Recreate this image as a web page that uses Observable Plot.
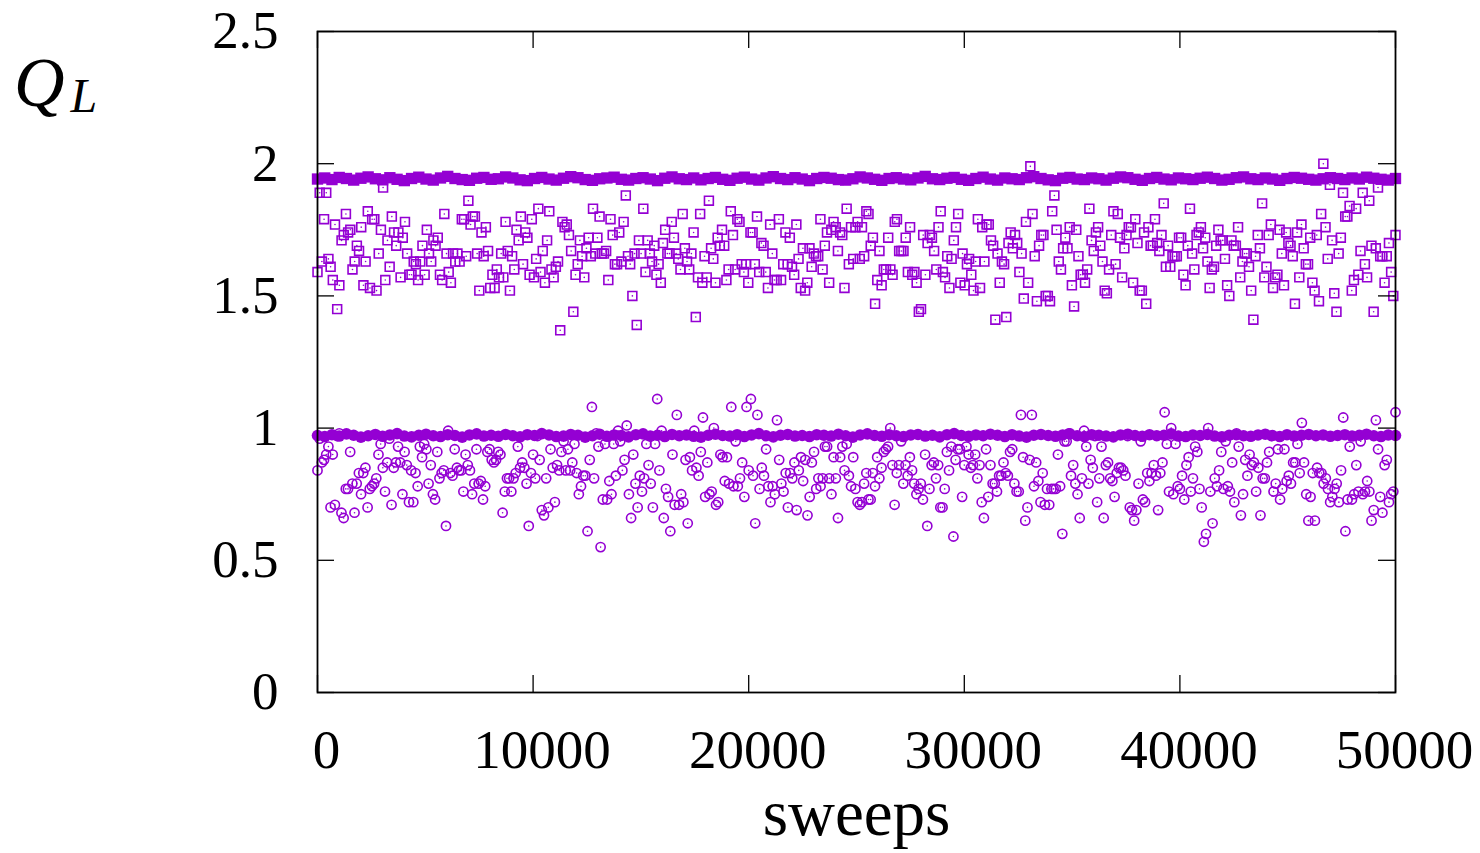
<!DOCTYPE html>
<html>
<head>
<meta charset="utf-8">
<script src="https://cdn.jsdelivr.net/npm/d3@7"></script>
<script src="https://cdn.jsdelivr.net/npm/@observablehq/plot@0.6"></script>
<style>
  html, body { margin: 0; padding: 0; background: #fff; }
  #chart { width: 1480px; height: 853px; }
</style>
</head>
<body>
<div id="chart"></div>
<script>
const xTicks = [0, 10000, 20000, 30000, 40000, 50000];
const yTicks = [0, 0.5, 1, 1.5, 2, 2.5];
const yTickLabels = ["0", "0.5", "1", "1.5", "2", "2.5"];
const xLabel = "sweeps";
const color = "#9400D3";

// open squares (scattered, upper)
const openSq = [
1.59,1.89,1.63,1.79,1.89,1.64,1.61,1.56,1.77,1.45,1.54,
1.71,1.73,1.81,1.74,1.75,1.60,1.63,1.69,1.67,1.76,1.54,1.63,1.82,1.53,1.79,1.79,1.52,
1.66,1.75,1.91,1.56,1.71,1.61,1.80,1.74,1.69,1.74,1.57,1.72,1.78,1.66,1.58,1.58,1.63,1.62,1.56,
1.63,1.69,1.58,1.75,1.66,1.63,1.71,1.69,1.72,1.58,1.56,1.81,1.66,1.59,1.55,1.66,1.63,1.66,1.63,
1.79,1.79,1.65,1.86,1.77,1.80,1.80,1.66,1.52,1.74,1.65,1.76,1.67,1.53,1.58,1.53,1.60,1.57,1.66,1.57,
1.78,1.67,1.52,1.65,1.60,1.75,1.71,1.80,1.62,1.74,1.72,1.58,1.79,1.57,1.64,1.83,1.59,1.67,1.55,1.71,
1.82,1.60,1.57,1.61,1.63,1.37,1.78,1.76,1.77,1.73,1.67,1.44,1.58,1.62,1.71,1.65,1.57,1.68,1.72,1.65,
1.83,1.66,1.72,1.80,1.66,1.66,1.67,1.56,1.79,1.73,1.62,1.62,1.74,1.63,1.78,1.88,1.65,1.62,1.50,1.66,
1.39,1.71,1.66,1.83,1.59,1.71,1.66,1.63,1.69,1.58,1.62,1.55,1.70,1.75,1.66,1.66,1.78,
1.72,1.66,1.64,1.60,1.81,1.68,1.63,1.60,1.66,1.74,1.42,1.57,1.81,1.55,1.65,1.57,1.86,1.68,1.64,1.55,
1.72,1.69,1.75,1.69,1.56,1.60,1.82,1.73,1.60,1.79,1.78,1.62,1.59,1.62,1.55,1.74,1.74,1.62,1.80,1.59,
1.70,1.69,1.59,1.53,1.77,1.66,1.56,1.56,1.79,1.56,1.62,1.74,1.62,1.72,1.61,1.58,1.77,1.64,1.53,1.68,
1.52,1.55,1.68,1.61,1.66,1.65,1.65,1.79,1.60,1.69,1.74,1.55,1.75,1.78,1.76,1.67,1.74,1.73,1.53,1.83,
1.62,1.76,1.64,1.76,1.78,1.64,1.76,1.65,1.82,1.81,1.69,1.72,1.47,1.56,1.67,1.54,1.60,1.60,1.72,1.60,
1.58,1.78,1.79,1.67,1.67,1.67,1.72,1.59,1.76,1.58,1.59,1.55,1.44,1.45,1.73,1.58,1.70,1.73,1.72,1.67,
1.60,1.76,1.82,1.59,1.57,1.65,1.53,1.64,1.71,1.76,1.81,1.55,1.66,1.54,1.62,1.64,1.58,1.52,1.63,1.79,
1.53,1.76,1.63,1.77,1.77,1.71,1.69,1.41,1.66,1.55,1.63,1.62,1.42,1.70,1.74,1.68,1.73,1.70,1.59,1.66,
1.49,1.78,1.55,1.99,1.81,1.65,
1.48,1.69,1.73,1.73,1.50,1.50,1.48,1.82,1.88,1.75,1.63,1.60,1.68,1.72,1.68,1.76,1.54,1.46,1.75,1.65,
1.58,1.58,1.55,1.60,1.83,1.71,1.67,1.74,1.76,1.69,1.63,1.52,1.51,1.60,1.73,1.82,1.62,1.81,1.72,1.57,
1.68,1.73,1.76,1.76,1.55,1.79,1.70,1.52,1.52,1.74,1.47,1.76,1.69,1.69,1.79,1.70,1.67,1.73,1.85,1.61,
1.69,1.61,1.65,1.65,1.65,1.72,1.72,1.58,1.54,1.69,1.83,1.66,1.60,1.73,1.74,1.76,1.68,1.72,1.63,1.53,
1.60,1.61,1.69,1.75,1.71,1.71,1.64,1.54,1.50,1.71,1.69,1.69,1.76,1.57,1.63,1.66,1.66,1.61,1.52,1.41,
1.65,1.73,1.68,1.85,1.57,1.61,1.73,1.77,1.53,1.57,1.58,1.75,1.66,1.54,1.74,1.70,1.69,1.65,1.47,1.74,
1.57,1.77,1.68,1.62,1.62,1.72,1.55,1.52,1.73,1.48,1.81,2.00,1.76,1.64,1.92,1.71,1.51,1.44,1.66,1.72,
1.89,1.80,1.80,1.84,1.52,1.56,1.83,1.58,1.67,1.89,1.62,1.57,1.86,1.69,1.44,1.68,1.91,1.65,1.65,1.55,
1.65,1.70,1.59,1.50,1.73
];

// open circles (scattered, lower)
const openCi = [
0.84,0.96,0.87,0.88,0.90,0.93,0.70,0.90,0.71,0.97,0.98,0.68,0.66,0.77,0.77,0.91,0.79,0.68,0.79,0.83,
0.75,0.83,0.85,0.70,0.77,0.78,0.79,0.81,0.90,0.94,0.85,0.76,0.87,0.96,0.71,0.85,0.87,0.93,0.87,0.75,
0.91,0.86,0.72,0.84,0.72,0.83,0.78,0.93,0.89,0.94,0.92,0.79,0.86,0.75,0.73,0.91,0.81,0.83,0.84,0.63,
0.99,0.83,0.82,0.92,0.85,0.84,0.84,0.76,0.90,0.86,0.84,0.75,0.79,0.92,0.79,0.80,0.73,0.78,0.91,0.92,
0.88,0.87,0.88,0.91,0.90,0.68,0.76,0.81,0.81,0.76,0.81,0.83,0.93,0.85,0.87,0.85,0.79,0.63,0.83,0.90,
0.81,0.97,0.88,0.69,0.67,0.81,0.70,0.92,0.85,0.72,0.86,0.84,0.91,0.95,0.84,0.92,0.84,0.87,0.94,0.83,
0.75,0.78,0.82,0.82,0.61,0.88,1.08,0.81,0.98,0.93,0.55,0.73,0.94,0.73,0.80,0.75,0.94,0.82,0.99,0.95,
0.84,0.88,1.01,0.75,0.66,0.90,0.79,0.70,0.82,0.76,0.81,0.94,0.86,0.79,0.70,0.94,1.11,0.84,0.99,0.66,
0.77,0.74,0.61,0.90,0.71,1.05,
0.71,0.75,0.72,0.88,0.64,0.89,0.84,0.99,0.85,0.82,0.91,1.04,0.74,0.87,0.75,0.76,1.00,0.71,0.72,0.90,
0.89,0.80,0.89,0.79,1.08,0.78,0.95,0.78,0.81,0.87,0.74,1.08,0.84,1.11,0.82,0.64,1.05,0.77,0.85,0.82,
0.92,0.78,0.72,0.78,0.75,1.03,0.88,0.79,0.76,0.83,0.70,0.83,0.81,0.87,0.69,0.84,0.89,0.80,0.88,0.67,
0.74,0.87,0.91,0.77,0.81,0.78,0.81,0.93,0.93,0.81,0.75,0.89,0.81,0.66,0.89,0.93,0.84,0.94,0.82,0.78,
0.89,0.77,0.72,0.71,0.72,0.79,0.83,0.73,0.73,0.83,0.78,0.89,0.81,0.85,0.91,0.92,0.93,1.00,0.86,0.71,
0.83,0.86,0.95,0.79,0.86,0.82,0.89,0.84,0.79,0.75,0.77,0.79,0.73,0.90,0.63,0.77,0.86,0.87,0.81,0.86,
0.70,0.70,0.77,0.91,0.84,0.93,0.59,0.88,0.92,0.92,0.74,0.86,0.93,0.90,0.85,0.86,0.90,0.81,0.86,0.72,
0.66,0.92,0.74,0.86,0.79,0.79,0.76,0.82,0.82,0.87,0.83,0.82,0.91,0.92,0.79,0.76,0.76,1.05,0.89,0.65,
0.70,0.88,1.05,0.78,
0.87,0.80,0.72,0.83,0.71,0.77,0.71,0.77,0.77,0.77,0.90,0.78,0.60,0.95,0.95,0.98,0.82,0.86,0.79,0.75,
0.66,0.81,0.99,0.93,0.79,0.88,0.85,0.97,0.72,0.81,0.93,0.66,0.86,0.87,0.81,0.80,0.74,0.83,0.85,0.85,
0.84,0.82,0.97,0.70,0.69,0.65,0.69,0.79,0.95,0.73,0.72,0.83,0.80,0.83,0.86,0.82,0.69,0.83,0.87,1.06,
0.94,0.76,1.00,0.75,0.94,0.78,0.77,0.82,0.73,0.86,0.89,0.76,0.81,0.93,0.91,0.77,0.70,0.57,0.60,1.00,
0.76,0.64,0.81,0.78,0.84,0.91,0.77,0.95,0.78,0.76,0.87,0.72,0.98,0.93,0.67,0.75,0.88,0.82,0.90,0.86,
0.87,0.76,0.85,0.67,0.81,0.81,0.87,0.91,0.97,0.76,0.79,0.92,0.73,0.77,0.92,0.80,0.82,0.79,0.87,0.87,
0.94,0.83,1.02,0.87,0.75,0.65,0.74,0.83,0.65,0.85,0.83,0.83,0.79,0.81,0.77,0.72,0.74,0.77,0.79,0.72,
0.84,1.04,0.61,0.73,0.93,0.73,0.75,0.86,0.76,0.95,0.75,0.76,0.80,0.76,0.65,0.69,1.03,0.92,0.74,0.68,
0.86,0.88,0.72,0.75,0.76,1.06
];

// filled squares (dense band near 1.94)
const fillSq = [
1.942,1.946,1.94,1.948,1.944,1.938,1.945,1.95,1.943,1.939,
1.947,1.941,1.936,1.944,1.949,1.942,1.938,1.946,1.952,1.944,
1.94,1.937,1.945,1.948,1.941,1.943,1.95,1.946,1.939,1.936,
1.944,1.948,1.942,1.938,1.945,1.951,1.947,1.94,1.937,1.943,
1.946,1.949,1.941,1.938,1.944,1.947,1.942,1.936,1.945,1.95,
1.943,1.94,1.946,1.939,1.944,1.948,1.941,1.937,1.945,1.949,
1.942,1.938,1.946,1.951,1.944,1.94,1.947,1.942,1.936,1.944,
1.948,1.945,1.94,1.938,1.943,1.95,1.946,1.941,1.937,1.944,
1.947,1.942,1.939,1.946,1.952,1.943,1.94,1.945,1.948,1.941,
1.937,1.944,1.949,1.942,1.938,1.946,1.943,1.94,1.947,1.951,
1.944,1.939,1.936,1.945,1.948,1.942,1.94,1.946,1.943,1.938,
1.945,1.95,1.947,1.941,1.937,1.944,1.948,1.942,1.939,1.946,
1.943,1.94,1.945,1.949,1.944,1.938,1.941,1.947,1.95,1.943,
1.94,1.946,1.942,1.937,1.944,1.948,1.945,1.941,1.938,1.943,
1.947,1.944,1.94,1.946,1.942,1.949,1.945,1.941,1.938,1.944
];

// filled circles (dense band near 0.97)
const fillCi = [
0.972,0.968,0.975,0.97,0.978,0.973,0.966,0.971,0.976,0.969,
0.974,0.979,0.97,0.967,0.973,0.977,0.971,0.968,0.975,0.972,
0.966,0.974,0.978,0.97,0.973,0.969,0.976,0.971,0.967,0.975,
0.972,0.979,0.974,0.968,0.97,0.976,0.973,0.966,0.971,0.977,
0.969,0.974,0.972,0.967,0.975,0.978,0.97,0.973,0.968,0.976,
0.971,0.974,0.969,0.966,0.973,0.977,0.972,0.97,0.975,0.968,
0.974,0.979,0.971,0.967,0.973,0.976,0.97,0.972,0.968,0.975,
0.973,0.97,0.977,0.971,0.966,0.974,0.978,0.972,0.969,0.975,
0.971,0.968,0.974,0.976,0.97,0.973,0.967,0.975,0.979,0.972,
0.969,0.974,0.971,0.977,0.973,0.968,0.975,0.97,0.966,0.973,
0.976,0.972,0.969,0.974,0.978,0.971,0.968,0.975,0.973,0.97,
0.967,0.974,0.977,0.972,0.969,0.975,0.971,0.973,0.978,0.97,
0.968,0.974,0.972,0.976,0.97,0.967,0.973,0.975,0.971,0.969,
0.974,0.977,0.972,0.968,0.975,0.97,0.973,0.976,0.971,0.974,
0.969,0.972,0.975,0.97,0.973,0.977,0.971,0.968,0.974,0.972
];

const xMax = 50000;
const toRows = arr => arr.map((q, i) => ({sweep: i * xMax / (arr.length - 1), q}));
const rowsOpenSq = toRows(openSq);
const rowsOpenCi = toRows(openCi);
const rowsFillSq = toRows(fillSq);
const rowsFillCi = toRows(fillCi);

const W = 1480, H = 853;
const mL = 317, mR = 85, mT = 31, mB = 161;
const plotW = W - mL - mR, plotH = H - mT - mB;
const tickLen = 17;
const font = "'Liberation Serif', 'DejaVu Serif', serif";

const chart = Plot.plot({
  width: W, height: H,
  marginLeft: mL, marginRight: mR, marginTop: mT, marginBottom: mB,
  style: {fontFamily: font, background: "white", color: "black"},
  x: {domain: [0, xMax]},
  y: {domain: [0, 2.5]},
  marks: [
    Plot.dot(rowsOpenSq, {x: "sweep", y: "q", symbol: "square", r: 5, stroke: color, strokeWidth: 1.6, fill: "none"}),
    Plot.dot(rowsOpenSq, {x: "sweep", y: "q", r: 0.8, fill: color, stroke: "none"}),
    Plot.dot(rowsOpenCi, {x: "sweep", y: "q", symbol: "circle", r: 4.6, stroke: color, strokeWidth: 1.6, fill: "none"}),
    Plot.dot(rowsOpenCi, {x: "sweep", y: "q", r: 0.8, fill: color, stroke: "none"}),
    Plot.dot(rowsFillSq, {x: "sweep", y: "q", symbol: "square", r: 6.4, fill: color, stroke: "none"}),
    Plot.dot(rowsFillCi, {x: "sweep", y: "q", symbol: "circle", r: 5.8, fill: color, stroke: "none"}),
    Plot.tickY(yTicks, {y: d => d, insetRight: plotW - tickLen, stroke: "black", strokeWidth: 1.3}),
    Plot.tickY(yTicks, {y: d => d, insetLeft: plotW - tickLen, stroke: "black", strokeWidth: 1.3}),
    Plot.tickX(xTicks, {x: d => d, insetTop: plotH - tickLen, stroke: "black", strokeWidth: 1.3}),
    Plot.tickX(xTicks, {x: d => d, insetBottom: plotH - tickLen, stroke: "black", strokeWidth: 1.3}),
    Plot.frame({stroke: "black", strokeWidth: 1.8}),
    Plot.axisX(xTicks, {anchor: "bottom", tickSize: 0, tickPadding: 36, dx: 9, fontSize: 55, tickFormat: d => String(d), label: null}),
    Plot.axisY(yTicks, {anchor: "left", tickSize: 0, tickPadding: 39, fontSize: 53, tickFormat: (d, i) => yTickLabels[yTicks.indexOf(d)], label: null}),
    Plot.text([xLabel], {frameAnchor: "bottom", dy: 142, fontSize: 65, fill: "black"})
  ]
});

const svg = d3.select(chart);
const ql = svg.append("text")
  .attr("x", 14).attr("y", 106)
  .attr("text-anchor", "start")
  .attr("font-family", font)
  .attr("font-style", "italic")
  .attr("font-size", 70)
  .attr("fill", "black");
ql.append("tspan").text("Q");
ql.append("tspan").attr("font-size", 48).attr("dy", 6).attr("dx", 6).text("L");

document.getElementById("chart").appendChild(chart);
</script>
</body>
</html>
